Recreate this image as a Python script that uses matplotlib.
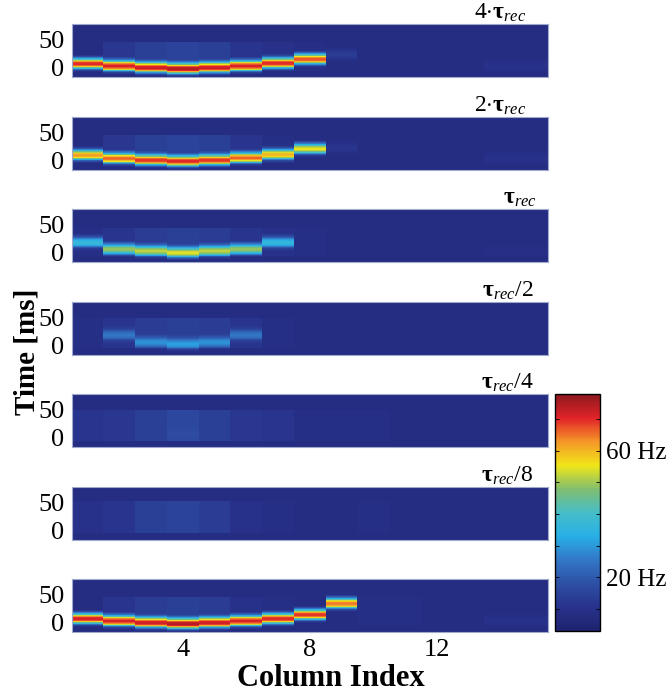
import numpy as np
import matplotlib.pyplot as plt
from matplotlib.colors import LinearSegmentedColormap

plt.rcParams['font.family'] = ['Liberation Serif', 'DejaVu Serif']
plt.rcParams['mathtext.fontset'] = 'custom'
plt.rcParams['mathtext.rm'] = 'Liberation Serif'
plt.rcParams['mathtext.it'] = 'Liberation Serif:italic'
plt.rcParams['mathtext.bf'] = 'Liberation Serif:bold'

nan = np.nan

# ---- data ----
columns = np.arange(1, 16)
titles = [r'$4{\cdot}\mathbf{\tau}_{\mathit{rec}}$',
          r'$2{\cdot}\mathbf{\tau}_{\mathit{rec}}$',
          r'$\mathbf{\tau}_{\mathit{rec}}$',
          r'$\mathbf{\tau}_{\mathit{rec}}/2$',
          r'$\mathbf{\tau}_{\mathit{rec}}/4$',
          r'$\mathbf{\tau}_{\mathit{rec}}/8$',
          '']

baseline_hz = 8
# response window (ms) where the column is a bit above baseline
block_window = [(-5, 45), (-5, 45), (-5, 44), (-5, 48), (-5, 48), (-4, 52), (-5, 45)]
block_hz = [
    [8, 12, 14, 15, 14, 11, 10, 9, 8, 8, 8, 8, 8, 8, 8],
    [8, 12, 14, 15, 14, 11, 9, 8, 8, 8, 8, 8, 8, 8, 8],
    [9, 11, 13, 14, 13, 11, 10, 9, 8, 8, 8, 8, 8, 8, 8],
    [9, 11, 13, 14, 13, 11, 9, 8, 8, 8, 8, 8, 8, 8, 8],
    [11, 12, 14, 16, 14, 12, 11, 9, 9, 9, 8, 8, 8, 8, 8],
    [10, 11, 14, 15, 13, 10, 9, 8, 8, 9, 8, 8, 8, 8, 8],
    [8, 11, 13, 14, 13, 10, 9, 8, 8, 9, 9, 8, 8, 8, 8],
]
# time (ms) and rate (Hz) of the response peak in each column
peak_ms = [
    [7, 3, 0, -2, 0, 3, 8, 15, 23, nan, nan, nan, nan, 3, 3],
    [9, 3, 0, -2, 0, 4, 10, 20, 22, nan, nan, nan, nan, 3, 3],
    [18, 6, 3, 0, 3, 6, 18, nan, nan, nan, nan, nan, nan, 3, 3],
    [nan, 18, 5, 2, 5, 18, nan, nan, nan, nan, nan, nan, nan, nan, nan],
    [nan, nan, nan, 5, nan, nan, nan, nan, nan, nan, nan, nan, nan, nan, nan],
    [nan, nan, nan, nan, nan, nan, nan, nan, nan, nan, nan, nan, nan, nan, nan],
    [7, 3, 0, -2, 0, 3, 7, 14, 34, nan, nan, nan, nan, 3, 3],
]
peak_hz = [
    [70, 71, 72, 74, 72, 71, 70, 67, 13, nan, nan, nan, nan, 10, 10],
    [62, 66, 69, 70, 69, 66, 60, 55, 11, nan, nan, nan, nan, 10, 10],
    [37, 49, 52, 54, 52, 49, 36, nan, nan, nan, nan, nan, nan, 9, 9],
    [nan, 25, 29, 31, 29, 25, nan, nan, nan, nan, nan, nan, nan, nan, nan],
    [nan, nan, nan, 17, nan, nan, nan, nan, nan, nan, nan, nan, nan, nan, nan],
    [nan, nan, nan, nan, nan, nan, nan, nan, nan, nan, nan, nan, nan, nan, nan],
    [71, 71, 72, 74, 72, 71, 70, 69, 65, nan, nan, nan, nan, 10, 10],
]
# shape of the response band, offsets -15..+15 ms around the peak
band_profile = [0.0, 0.03, 0.06, 0.1, 0.16, 0.24, 0.34, 0.46, 0.58, 0.7, 0.8,
                0.88, 0.94, 0.98, 1.0, 1.0, 1.0, 0.98, 0.94, 0.88, 0.8, 0.71,
                0.62, 0.53, 0.44, 0.36, 0.28, 0.21, 0.15, 0.1, 0.06]
half = len(band_profile) // 2

# colours of the (printed) jet colour bar
cbar_colors = ['#1e236e', '#28328c', '#2d50a5', '#3278c8', '#28afe6', '#46bec8',
               '#82be6e', '#f0e619', '#f59628', '#e12328', '#8c191e']
cmap = LinearSegmentedColormap.from_list('jet_print', cbar_colors)

t_edges = np.arange(-16.5, 78.5, 1.0)
t_mid = (t_edges[:-1] + 0.5).astype(int)
x_edges = np.arange(0.5, 16.5, 1.0)

W, H = 666, 692
fig = plt.figure(figsize=(W / 100, H / 100), dpi=100)

title_x = [0.899, 0.899, 0.941, 0.915, 0.915, 0.915, 0.9]
for p in range(7):
    top = 24 + 92.5 * p
    ax = fig.add_axes([71.5 / W, 1 - (top + 53) / H, 476.5 / W, 53 / H])
    rate = np.full((len(t_mid), len(columns)), float(baseline_hz))
    lo, hi = block_window[p]
    for c in range(len(columns)):
        win = (t_mid >= lo) & (t_mid <= hi)
        rate[win, c] = block_hz[p][c]
        if not np.isnan(peak_ms[p][c]):
            for k, w in enumerate(band_profile):
                row = int(peak_ms[p][c]) + k - half - t_mid[0]
                if 0 <= row < len(t_mid):
                    rate[row, c] += (peak_hz[p][c] - rate[row, c]) * w
    mesh = ax.pcolormesh(x_edges, t_edges, rate, cmap=cmap, vmin=3, vmax=78,
                         shading='flat')
    ax.set_xlim(0.5, 15.5)
    ax.set_ylim(-16.5, 77.5)
    ax.set_yticks([0, 50])
    ax.set_xticks([4, 8, 12])
    ax.tick_params(length=0, labelsize=19, pad=5)
    if p < 6:
        ax.set_xticklabels([])
    for s in ax.spines.values():
        s.set_color('#a0a8cc')
        s.set_linewidth(0.8)
    if titles[p]:
        ax.text(title_x[p], 1.0, titles[p], transform=ax.transAxes,
                ha='center', va='bottom', fontsize=17)

cax = fig.add_axes([555 / W, 1 - 631 / H, 45 / W, 237 / H])
cb = fig.colorbar(mesh, cax=cax, ticks=[10, 20, 30, 40, 50, 60, 70])
cb.set_ticklabels(['', '20 Hz', '', '', '', '60 Hz', ''])
cax.tick_params(direction='in', left=True, right=True, length=3, width=0.6,
                labelsize=18, pad=4)
cb.outline.set_linewidth(1.0)

fig.text(27 / W, 1 - 352 / H, 'Time [ms]', rotation=90, ha='center', va='center',
         fontsize=21, fontweight='bold')
fig.text(331 / W, 1 - 678 / H, 'Column Index', ha='center', va='center',
         fontsize=22, fontweight='bold')

fig.savefig('out.png', dpi=100)
